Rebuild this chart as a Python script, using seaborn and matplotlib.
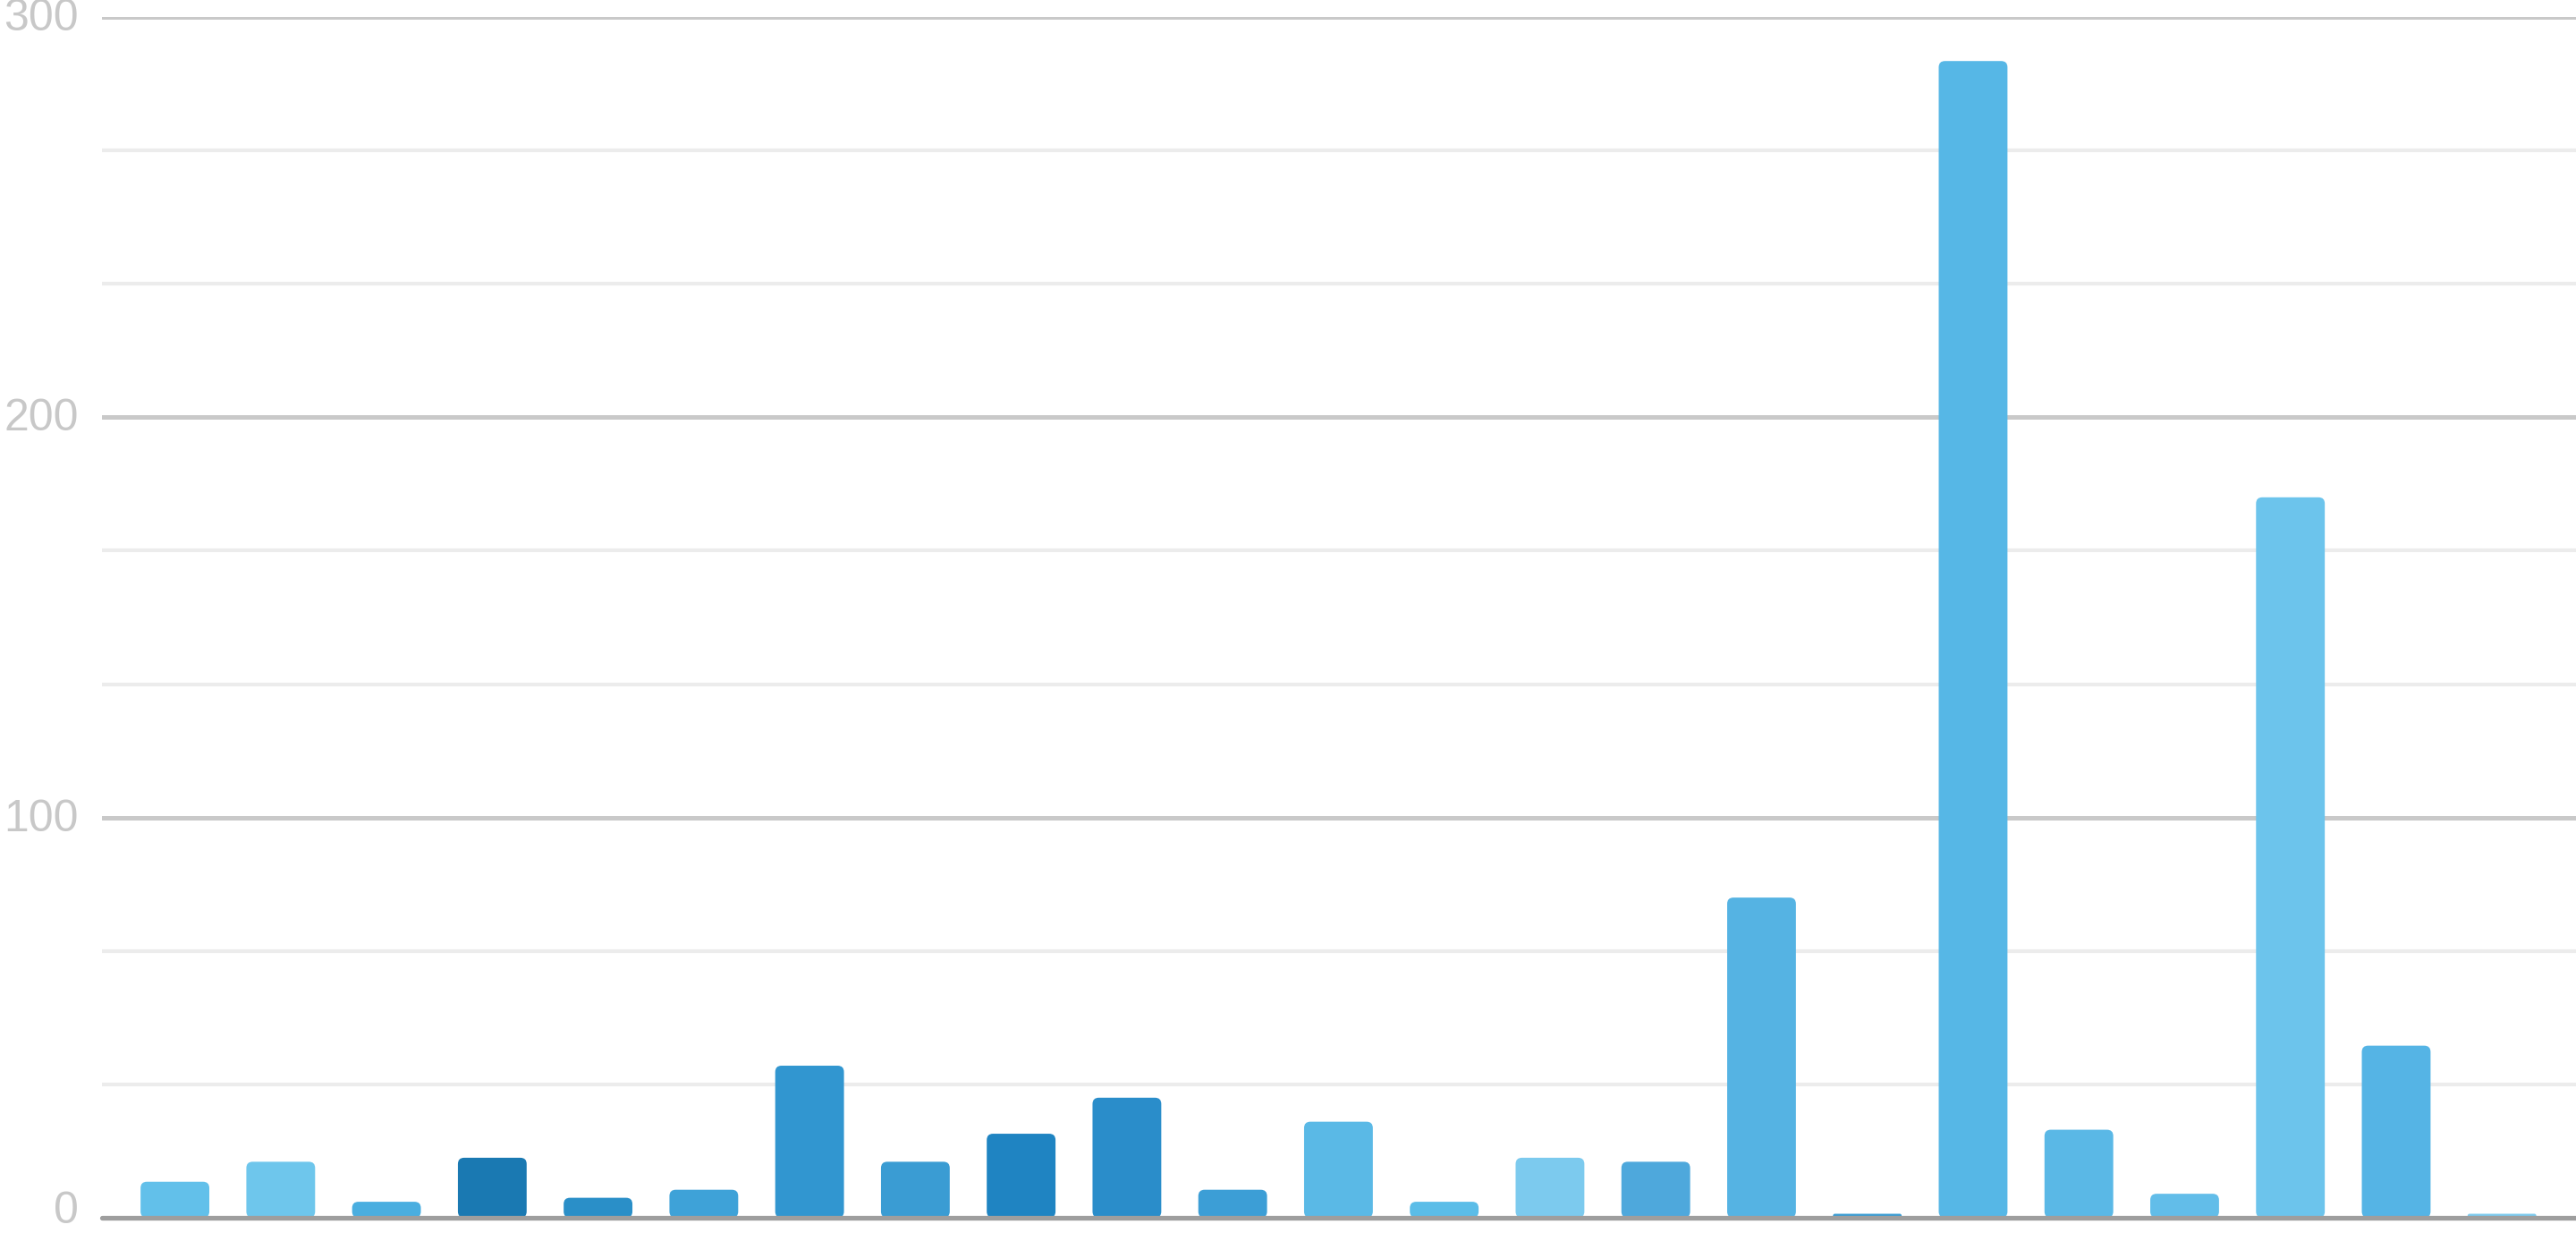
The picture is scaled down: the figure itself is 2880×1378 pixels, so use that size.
import matplotlib
matplotlib.use("Agg")
import matplotlib.pyplot as plt
import matplotlib.transforms as mtransforms
from matplotlib.patches import FancyBboxPatch
from matplotlib.ticker import MultipleLocator
import seaborn as sns

# values
categories = [f"c{i}" for i in range(1, 24)]
values = [9, 14, 4, 15, 5, 7, 38, 14, 21, 30, 7, 24, 4, 15, 14,
          80, 1, 289, 22, 6, 180, 43, 1]
y_ticks = [0, 100, 200, 300]

bar_colors = ["#62c0ea", "#6ec6ec", "#4aaee0", "#1a79b2", "#2a8fc8", "#3ea2d8",
              "#3196d0", "#3a9cd3", "#1f84c2", "#2a8dca", "#3c9ed6", "#5ab9e6",
              "#5bbde8", "#7ccaee", "#4ea8dc", "#55b3e3", "#3a9cd3", "#56b7e6",
              "#5ab8e6", "#62bde9", "#6cc4ec", "#55b4e5", "#7ccaee"]

sns.set_style("white")
plt.rcParams["font.family"] = ["Liberation Sans", "DejaVu Sans"]

W, H = 2880, 1378
fig = plt.figure(figsize=(W / 100, H / 100), dpi=100)
left, right, top, bottom = 114, W, 19, 1361
ax = fig.add_axes([left / W, (H - bottom) / H, (right - left) / W, (bottom - top) / H])

sns.barplot(x=categories, y=values, hue=categories, palette=bar_colors,
            legend=False, width=0.65, ax=ax, order=categories, saturation=1)

xlo, xhi = -0.69, 22.7
ax.set_xlim(xlo, xhi)
ax.set_ylim(0, 300)

# rounded tops for the bars
px_x = (right - left) / (xhi - xlo)
px_y = (bottom - top) / 300
asp = px_x / px_y
for p in list(ax.patches):
    x, y = p.get_x(), p.get_y()
    w, h = p.get_width(), p.get_height()
    fc = p.get_facecolor()
    p.remove()
    r = min(7 / px_x, h / asp / 2)
    ax.add_patch(FancyBboxPatch((x, y), w, h,
                                boxstyle=f"round,pad=0,rounding_size={r}",
                                mutation_aspect=asp, fc=fc, ec="none", zorder=2))

ax.set_yticks(y_ticks)
ax.yaxis.set_minor_locator(MultipleLocator(100 / 3))
ax.grid(axis="y", which="major", color="#c9c9c9", lw=3.6, zorder=0)
ax.grid(axis="y", which="minor", color="#ececec", lw=3.0, zorder=0)
ax.set_axisbelow(True)
ax.axhline(0, color="#9e9e9e", lw=3.8, zorder=3, clip_on=False)

ax.set_xticks([])
ax.set_xlabel("")
ax.set_ylabel("")
ax.tick_params(axis="y", which="both", length=0, pad=19, labelsize=36, labelcolor="#c8c8c8")
for lab in ax.get_yticklabels():
    up = 12 if lab.get_text() == "0" else 3
    shift = mtransforms.ScaledTranslation(0, up / 100, fig.dpi_scale_trans)
    lab.set_transform(lab.get_transform() + shift)
for s in ax.spines.values():
    s.set_visible(False)

fig.savefig("out.png", dpi=100)
